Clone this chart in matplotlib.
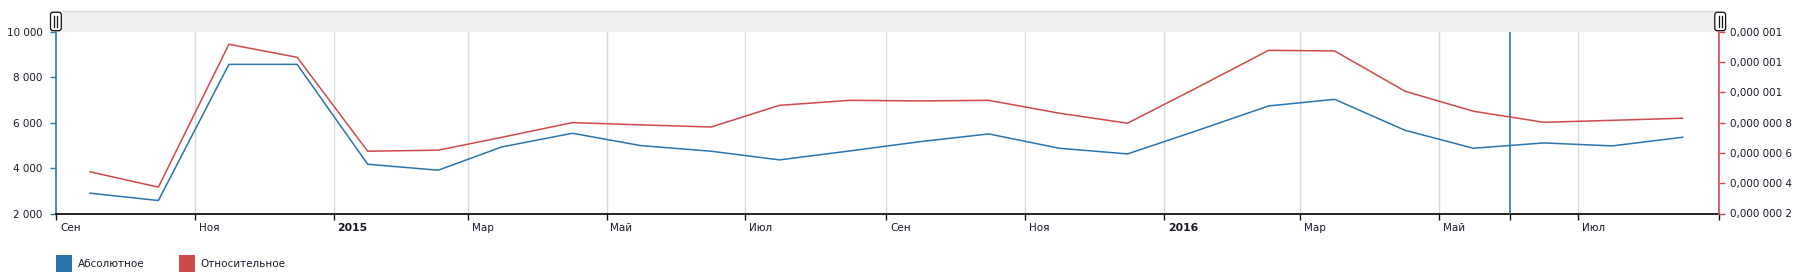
import matplotlib
matplotlib.use('Agg')
import matplotlib.pyplot as plt
from matplotlib.patches import FancyBboxPatch, Rectangle
from datetime import datetime

plt.rcParams['font.family'] = ['DejaVu Sans']

# ---------------- data ----------------
months = ['2014-09-16', '2014-10-16', '2014-11-16', '2014-12-16',
          '2015-01-16', '2015-02-16', '2015-03-16', '2015-04-16',
          '2015-05-16', '2015-06-16', '2015-07-16', '2015-08-16',
          '2015-09-16', '2015-10-16', '2015-11-16', '2015-12-16',
          '2016-01-16', '2016-02-16', '2016-03-16', '2016-04-16',
          '2016-05-16', '2016-06-16', '2016-07-16', '2016-08-16']
absolute = [2894, 2571, 8563, 8563, 4168, 3905, 4930, 5531,
            4989, 4740, 4359, 4754, 5164, 5501, 4871, 4622,
            5662, 6732, 7025, 5662, 4871, 5106, 4974, 5355]
relative = [0.475e-6, 0.374e-6, 1.317e-6, 1.231e-6, 0.611e-6, 0.618e-6,
            0.703e-6, 0.800e-6, 0.785e-6, 0.771e-6, 0.914e-6, 0.947e-6,
            0.943e-6, 0.947e-6, 0.862e-6, 0.796e-6, 1.034e-6, 1.277e-6,
            1.273e-6, 1.007e-6, 0.875e-6, 0.802e-6, 0.815e-6, 0.829e-6]
series_names = ['Абсолютное', 'Относительное']

left_ticks = [2000, 4000, 6000, 8000, 10000]
left_labels = ['2 000', '4 000', '6 000', '8 000', '10 000']
right_ticks = [0.2e-6, 0.4e-6, 0.6e-6, 0.8e-6, 1.0e-6, 1.2e-6, 1.4e-6]
right_labels = ['0,000 000 2', '0,000 000 4', '0,000 000 6', '0,000 000 8',
                '0,000 001', '0,000 001', '0,000 001']
x_tick_dates = ['2014-09-01', '2014-11-01', '2015-01-01', '2015-03-01',
                '2015-05-01', '2015-07-01', '2015-09-01', '2015-11-01',
                '2016-01-01', '2016-03-01', '2016-05-01', '2016-07-01']
x_tick_labels = ['Сен', 'Ноя', '2015', 'Мар', 'Май', 'Июл',
                 'Сен', 'Ноя', '2016', 'Мар', 'Май', 'Июл']
x_start, x_end = '2014-09-01', '2016-09-01'
cursor_date = '2016-06-01'

# ---------------- style ----------------
BLUE = '#2a74b0'
RED = '#d0494a'
TEXT = '#1a1a2a'
GRID = '#d9d9d9'
FS = 7.5

W, H = 1807, 276
fig = plt.figure(figsize=(W / 100, H / 100), dpi=100)

# overlay axes in pixel coordinates (for scrollbar and legend decorations)
ov = fig.add_axes([0, 0, 1, 1], zorder=-1)
ov.set_xlim(0, W)
ov.set_ylim(H, 0)
ov.axis('off')

left_px, right_px, top_px, bot_px = 56, 1719, 31.7, 213.5
ax = fig.add_axes([left_px / W, 1 - bot_px / H, (right_px - left_px) / W,
                   (bot_px - top_px) / H])
ax2 = ax.twinx()
ax.patch.set_alpha(0)

d = lambda s: datetime.strptime(s, '%Y-%m-%d')
xs = [d(m) for m in months]

ax.set_xlim(d(x_start), d(x_end))
ax.set_ylim(2000, 10000)
ax2.set_ylim(0.2e-6, 1.4e-6)

# gridlines (vertical only)
for t in x_tick_dates[1:]:
    ax.axvline(d(t), color=GRID, lw=1.0, zorder=0)

ax.plot(xs, absolute, color=BLUE, lw=1.1, zorder=3)
ax2.plot(xs, relative, color=RED, lw=1.1, zorder=3)

# cursor line
ax.axvline(d(cursor_date), color=BLUE, lw=1.2, zorder=4)

# spines
for a in (ax, ax2):
    a.spines['top'].set_visible(False)
ax.spines['right'].set_visible(False)
ax2.spines['left'].set_visible(False)
ax2.spines['bottom'].set_visible(False)
ax.spines['left'].set_color(BLUE)
ax.spines['left'].set_linewidth(1.2)
ax2.spines['right'].set_color(RED)
ax2.spines['right'].set_linewidth(1.2)
ax.spines['bottom'].set_color('#111111')
ax.spines['bottom'].set_linewidth(1.3)

ax.set_yticks(left_ticks)
ax.set_yticklabels(left_labels)
ax.tick_params(axis='y', colors=BLUE, length=4.5, width=1.0, pad=5,
               labelsize=FS, labelcolor=TEXT)
ax2.set_yticks(right_ticks)
ax2.set_yticklabels(right_labels)
ax2.tick_params(axis='y', colors=RED, length=4.5, width=1.0, pad=3.5,
                labelsize=FS, labelcolor=TEXT)

xt = [d(t) for t in x_tick_dates] + [d(cursor_date), d(x_end)]
ax.set_xticks(xt)
ax.set_xticklabels([''] * len(xt))
ax.tick_params(axis='x', colors='#111111', length=4.5, width=1.0)
for t, lab in zip(x_tick_dates, x_tick_labels):
    bold = lab.isdigit()
    ax.annotate(lab, xy=(d(t), 0), xycoords=('data', 'axes fraction'),
                xytext=(2.8, -10.6), textcoords='offset points',
                ha='left', va='center', fontsize=FS + (0.3 if bold else 0),
                fontweight='bold' if bold else 'normal', color=TEXT,
                annotation_clip=False)

# scrollbar band
ov.add_patch(Rectangle((50, 11), 1670, 20.7, facecolor='#efefef',
                       edgecolor='none'))
ov.plot([50, 1720], [11.2, 11.2], color='#dcdcdc', lw=1.0)
for hx in (50.5, 1714.8):
    hw, hy0, hy1 = 10.8, 12.3, 30.7
    ov.add_patch(FancyBboxPatch((hx, hy0), hw, hy1 - hy0,
                                boxstyle='round,pad=0,rounding_size=2.5',
                                facecolor='white', edgecolor='#111111',
                                lw=0.9, zorder=5))
    for gx in (hx + hw / 2 - 1.4, hx + hw / 2 + 1.4):
        ov.plot([gx, gx], [16.0, 27.0], color='#111111', lw=0.9, zorder=6)

# legend
for (sx, col, name) in ((56, BLUE, series_names[0]), (179, RED, series_names[1])):
    ov.add_patch(Rectangle((sx, 255), 16.5, 17, facecolor=col, edgecolor='none'))
    ov.text(sx + 21.5, 264, name, fontsize=FS, color=TEXT,
            ha='left', va='center')

fig.savefig('out.png', dpi=100)
